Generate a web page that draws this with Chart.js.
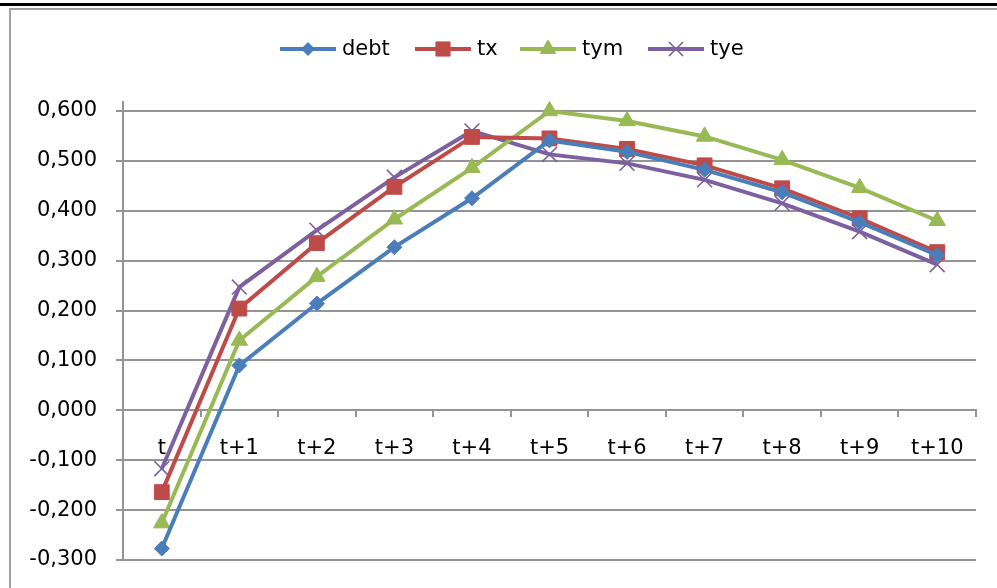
<!DOCTYPE html>
<html><head><meta charset="utf-8">
<script src="https://cdn.jsdelivr.net/npm/chart.js@4/dist/chart.umd.min.js"></script>
<style>
html,body{margin:0;padding:0;background:#fff;}
#wrap{position:relative;width:997px;height:588px;overflow:hidden;background:#fff;}
#blk{position:absolute;left:0;top:3px;width:997px;height:3px;background:#000;}
#frame{position:absolute;left:9px;top:8px;width:1000px;height:600px;border-left:2px solid #a0a0a0;border-top:2px solid #a0a0a0;}
canvas{position:absolute;left:0;top:0;}
</style></head><body>
<div id="wrap"><div id="blk"></div><div id="frame"></div><canvas id="c" width="997" height="588"></canvas></div>
<script>
const categories = ['t','t+1','t+2','t+3','t+4','t+5','t+6','t+7','t+8','t+9','t+10'];
const debt = [-0.277, 0.090, 0.214, 0.327, 0.425, 0.541, 0.518, 0.482, 0.437, 0.377, 0.311];
const tx   = [-0.164, 0.204, 0.335, 0.448, 0.548, 0.545, 0.524, 0.491, 0.445, 0.385, 0.317];
const tym  = [-0.226, 0.140, 0.268, 0.383, 0.486, 0.600, 0.580, 0.549, 0.502, 0.446, 0.380];
const tye  = [-0.117, 0.247, 0.361, 0.467, 0.560, 0.513, 0.495, 0.462, 0.415, 0.358, 0.292];
const seriesNames = ['debt','tx','tym','tye'];
const yTickValues = [-0.3,-0.2,-0.1,0,0.1,0.2,0.3,0.4,0.5,0.6];

const colors = ['#4A7EBB','#BE4B48','#98B954','#7D60A0'];
const styles = [
  {pointStyle:'rectRot', radius:7.5, bw:1},
  {pointStyle:'rect', radius:10.5, bw:1},
  {pointStyle:'triangle', radius:9.5, bw:1},
  {pointStyle:'crossRot', radius:10.5, bw:1.6}
];
const values = [debt, tx, tym, tye];
const gridCol = '#949494';
const FONT = 'DejaVu Sans';

const datasets = values.map((v,i)=>({
  label: seriesNames[i],
  data: v,
  borderColor: colors[i],
  backgroundColor: colors[i],
  borderWidth: 4,
  tension: 0,
  pointStyle: styles[i].pointStyle,
  pointRadius: styles[i].radius,
  pointHoverRadius: styles[i].radius,
  pointBackgroundColor: colors[i],
  pointBorderColor: colors[i],
  pointBorderWidth: styles[i].bw,
  clip: false
}));

const legendPlugin = {
  id: 'customLegend',
  afterDraw(chart) {
    const ctx = chart.ctx;
    const xs = [280, 415, 520, 648];
    const y = 49;
    ctx.save();
    chart.data.datasets.forEach((ds, i) => {
      const x0 = xs[i];
      ctx.strokeStyle = ds.borderColor;
      ctx.lineWidth = 4;
      ctx.beginPath(); ctx.moveTo(x0, y); ctx.lineTo(x0 + 56, y); ctx.stroke();
      ctx.fillStyle = ds.borderColor;
      ctx.strokeStyle = ds.borderColor;
      ctx.lineWidth = ds.pointBorderWidth;
      const r = i === 0 ? 6.5 : ds.pointRadius * 0.95;
      Chart.helpers.drawPoint(ctx, {pointStyle: ds.pointStyle, radius: r, rotation: 0, borderWidth: ds.pointBorderWidth}, x0 + 28, y);
      ctx.fillStyle = '#000';
      ctx.font = '21px "' + FONT + '"';
      ctx.textBaseline = 'middle';
      ctx.textAlign = 'left';
      ctx.fillText(ds.label, x0 + 62, y + 1);
    });
    ctx.restore();
  }
};

new Chart(document.getElementById('c'), {
  type: 'line',
  data: { labels: categories, datasets },
  plugins: [legendPlugin],
  options: {
    responsive: false,
    animation: false,
    devicePixelRatio: 1,
    layout: { padding: { left: 0, right: 21, top: 102, bottom: 28 } },
    plugins: { legend: { display: false }, tooltip: { enabled: false } },
    scales: {
      x: {
        type: 'category',
        position: { y: 0 },
        offset: true,
        afterFit(s) { s.height = 0; s.paddingTop = 0; s.paddingBottom = 0; },
        grid: { offset: true, drawOnChartArea: false, drawTicks: true, tickLength: 6, color: gridCol, lineWidth: 2 },
        border: { display: true, color: gridCol, width: 2 },
        ticks: { color: '#000', font: { family: FONT, size: 21 }, padding: 20, maxRotation: 0, autoSkip: false }
      },
      y: {
        min: -0.3,
        max: 0.618,
        afterBuildTicks(s) { s.ticks = yTickValues.map(v => ({ value: v })); },
        afterFit(s) { s.width = 123; s.paddingTop = 0; s.paddingBottom = 0; },
        grid: { color: gridCol, lineWidth: 2, tickLength: 7, drawTicks: true },
        border: { display: true, color: gridCol, width: 2 },
        ticks: {
          color: '#000', font: { family: FONT, size: 21 }, padding: 19,
          callback: v => (Math.abs(v) < 1e-9 ? 0 : v).toFixed(3).replace('.', ',')
        }
      }
    }
  }
});
</script>
</body></html>
